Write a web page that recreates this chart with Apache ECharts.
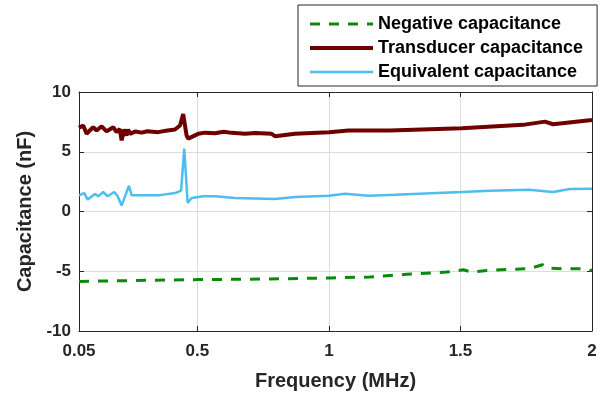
<!DOCTYPE html>
<html>
<head>
<meta charset="utf-8">
<script src="https://cdn.jsdelivr.net/npm/echarts@6/dist/echarts.min.js"></script>
<style>
  html, body { margin: 0; padding: 0; background: #fff; }
  #chart { width: 601px; height: 396px; }
</style>
</head>
<body>
<div id="chart"></div>
<script>
// frequency ticks (MHz)
var freqTicks = [0.05, 0.5, 1, 1.5, 2];

// negative capacitance (nF)
var negFreq = [0.05, 0.25, 0.503, 0.75, 1.01, 1.156, 1.296, 1.447, 1.511, 1.543, 1.6, 1.688, 1.764, 1.812, 1.828, 1.904, 1.967, 1.992, 2.0];
var negCap  = [-5.85, -5.78, -5.7, -5.65, -5.56, -5.48, -5.26, -5.07, -4.88, -5.07, -4.93, -4.85, -4.77, -4.46, -4.74, -4.8, -4.8, -4.93, -4.9];

// transducer capacitance (nF)
var transFreq = [0.05, 0.054, 0.066, 0.079, 0.092, 0.104, 0.117, 0.136, 0.155, 0.180, 0.193, 0.205, 0.212, 0.222, 0.231, 0.237, 0.244, 0.265, 0.288, 0.310, 0.351, 0.380, 0.415, 0.434, 0.446, 0.459, 0.465, 0.503, 0.530, 0.567, 0.600, 0.630, 0.681, 0.720, 0.782, 0.795, 0.871, 1.0, 1.074, 1.232, 1.505, 1.738, 1.821, 1.852, 2.0];
var transCap  = [7.0, 6.97, 7.2, 6.5, 6.8, 7.05, 6.78, 7.13, 6.7, 7.05, 6.64, 6.9, 5.95, 6.86, 6.36, 6.86, 6.5, 6.7, 6.6, 6.72, 6.64, 6.75, 6.86, 7.2, 8.15, 6.36, 6.1, 6.5, 6.6, 6.55, 6.68, 6.58, 6.5, 6.56, 6.5, 6.3, 6.5, 6.64, 6.78, 6.78, 6.97, 7.25, 7.52, 7.3, 7.66];

// equivalent capacitance (nF)
var equivFreq = [0.05, 0.054, 0.070, 0.083, 0.111, 0.123, 0.142, 0.159, 0.184, 0.197, 0.212, 0.225, 0.240, 0.250, 0.288, 0.351, 0.415, 0.438, 0.450, 0.463, 0.478, 0.522, 0.567, 0.643, 0.795, 0.871, 1.0, 1.061, 1.150, 1.251, 1.505, 1.612, 1.760, 1.852, 1.916, 2.0];
var equivCap  = [1.35, 1.35, 1.54, 1.0, 1.46, 1.27, 1.63, 1.27, 1.63, 1.27, 0.5, 1.27, 2.15, 1.35, 1.35, 1.35, 1.54, 1.74, 5.26, 0.72, 1.13, 1.27, 1.27, 1.13, 1.05, 1.21, 1.32, 1.49, 1.32, 1.4, 1.63, 1.74, 1.82, 1.63, 1.88, 1.9];

function pairs(xs, ys) {
  return xs.map(function (x, i) { return [x, ys[i]]; });
}

var font = 'Liberation Sans, Arial, sans-serif';
var axisColor = '#262626';

var chart = echarts.init(document.getElementById('chart'));
chart.setOption({
  animation: false,
  grid: { left: 79, right: 9, top: 92, bottom: 62 },
  legend: {
    orient: 'vertical',
    left: 298,
    top: 5,
    padding: [10, 14, 5, 10],
    itemWidth: 63,
    itemHeight: 14,
    itemGap: 6,
    itemStyle: { opacity: 0 },
    backgroundColor: '#fff',
    borderColor: axisColor,
    borderWidth: 1,
    textStyle: { fontFamily: font, fontWeight: 'bold', fontSize: 18, color: '#000', lineHeight: 18 },
    data: [
      { name: 'Negative capacitance', lineStyle: { width: 3, type: [10, 9] } },
      { name: 'Transducer capacitance', lineStyle: { width: 4 } },
      { name: 'Equivalent capacitance', lineStyle: { width: 2.5 } }
    ]
  },
  xAxis: [{
    type: 'value',
    min: 0.05,
    max: 2,
    name: 'Frequency (MHz)',
    nameLocation: 'middle',
    nameGap: 40,
    nameTextStyle: { fontFamily: font, fontWeight: 'bold', fontSize: 20, color: axisColor },
    axisLine: { onZero: false, lineStyle: { color: axisColor, width: 1 } },
    axisTick: { inside: true, length: 5, customValues: freqTicks, lineStyle: { color: axisColor } },
    axisLabel: { customValues: freqTicks, margin: 12, fontFamily: font, fontWeight: 'bold', fontSize: 17, color: axisColor },
    splitLine: { show: true, lineStyle: { color: '#dcdcdc', width: 1 } }
  }, {
    type: 'value',
    position: 'top',
    min: 0.05,
    max: 2,
    axisLine: { show: true, onZero: false, lineStyle: { color: axisColor, width: 1 } },
    axisTick: { inside: true, length: 5, customValues: freqTicks, lineStyle: { color: axisColor } },
    axisLabel: { show: false },
    splitLine: { show: false }
  }],
  yAxis: [{
    type: 'value',
    min: -10,
    max: 10,
    interval: 5,
    name: 'Capacitance (nF)',
    nameLocation: 'middle',
    nameGap: 37,
    nameTextStyle: { fontFamily: font, fontWeight: 'bold', fontSize: 20, color: axisColor },
    axisLine: { show: true, onZero: false, lineStyle: { color: axisColor, width: 1 } },
    axisTick: { show: true, inside: true, length: 5, lineStyle: { color: axisColor } },
    axisLabel: { margin: 8, fontFamily: font, fontWeight: 'bold', fontSize: 17, color: axisColor },
    splitLine: { show: true, lineStyle: { color: '#dcdcdc', width: 1 } }
  }, {
    type: 'value',
    position: 'right',
    min: -10,
    max: 10,
    interval: 5,
    axisLine: { show: true, onZero: false, lineStyle: { color: axisColor, width: 1 } },
    axisTick: { show: true, inside: true, length: 5, lineStyle: { color: axisColor } },
    axisLabel: { show: false },
    splitLine: { show: false }
  }],
  series: [{
    name: 'Negative capacitance',
    type: 'line',
    symbol: 'none',
    data: pairs(negFreq, negCap),
    color: '#0a8a0a',
    lineStyle: { color: '#0a8a0a', width: 3, type: [10, 9] }
  }, {
    name: 'Transducer capacitance',
    type: 'line',
    symbol: 'none',
    data: pairs(transFreq, transCap),
    color: '#6e0000',
    lineStyle: { color: '#6e0000', width: 4 }
  }, {
    name: 'Equivalent capacitance',
    type: 'line',
    symbol: 'none',
    data: pairs(equivFreq, equivCap),
    color: '#4dbeee',
    lineStyle: { color: '#4dbeee', width: 2.5 }
  }]
});
</script>
</body>
</html>
